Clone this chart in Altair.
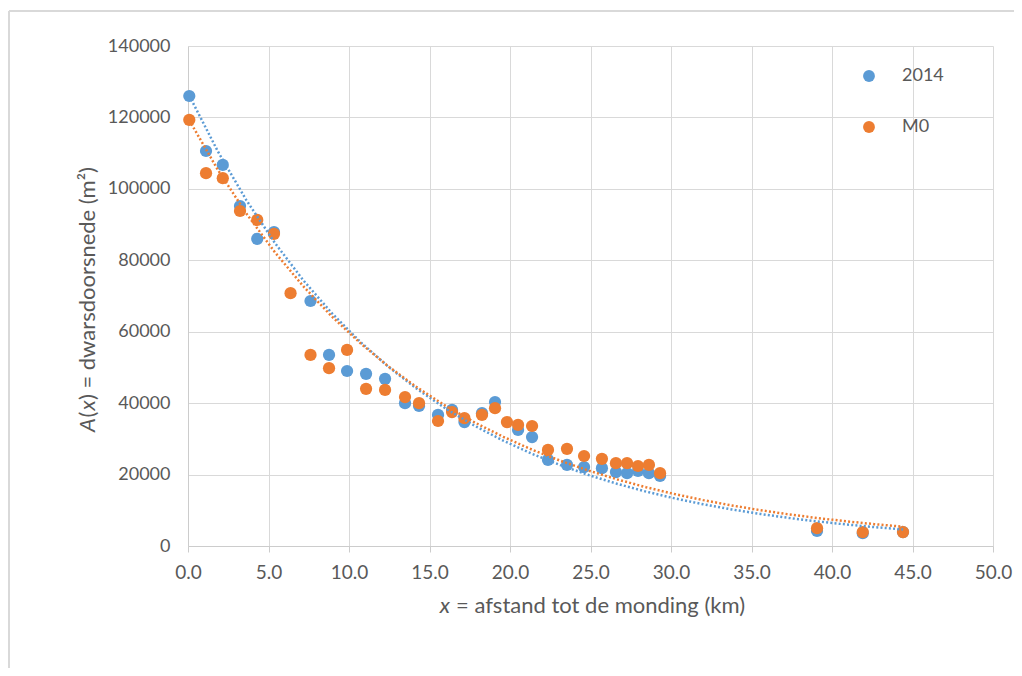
import altair as alt
import pandas as pd

# ---- data ----
series_names = ["2014", "M0"]
series_colors = ["#5B9BD5", "#ED7D31"]

x_2014 = [0.08, 1.12, 2.16, 3.23, 4.30, 5.34, 7.61, 8.76, 9.88, 11.06, 12.24, 13.48,
          14.35, 15.53, 16.4, 17.17, 18.26, 19.07, 20.50, 21.37, 22.36, 23.54, 24.60,
          25.71, 26.58, 27.27, 27.95, 28.63, 29.32, 39.07, 41.91, 44.41]
a_2014 = [126000, 110600, 106700, 95200, 86000, 87900, 68600, 53500, 49000, 48200, 46800, 40000,
          39200, 36700, 38100, 34700, 37200, 40300, 32500, 30500, 24100, 22700, 22100,
          21800, 20700, 20400, 21000, 20400, 19600, 4200, 3600, 3900]

x_m0 = [0.08, 1.12, 2.16, 3.23, 4.30, 5.34, 6.37, 7.61, 8.76, 9.88, 11.06, 12.24, 13.48,
        14.35, 15.53, 16.4, 17.17, 18.26, 19.07, 19.81, 20.50, 21.37, 22.36, 23.54, 24.60,
        25.71, 26.58, 27.27, 27.95, 28.63, 29.32, 39.07, 41.91, 44.41]
a_m0 = [119300, 104400, 103000, 93800, 91300, 87400, 70800, 53500, 49800, 54900, 44000, 43700, 41700,
        40000, 35000, 37500, 35800, 36700, 38600, 34700, 33900, 33600, 26900, 27200, 25200,
        24400, 23200, 23200, 22400, 22700, 20400, 5000, 3900, 3900]

x_ticks = [0, 5, 10, 15, 20, 25, 30, 35, 40, 45, 50]
y_ticks = [0, 20000, 40000, 60000, 80000, 100000, 120000, 140000]

x_title_parts = ["x", "= afstand tot de monding (km)"]
y_title_parts = ["A", "(", "x", ") = dwarsdoorsnede (m²)"]

df = pd.concat([
    pd.DataFrame({"x": x_2014, "A": a_2014, "serie": series_names[0]}),
    pd.DataFrame({"x": x_m0, "A": a_m0, "serie": series_names[1]}),
], ignore_index=True)

FONT = "Lato"
GRID = "#d9d9d9"
TXT = "#595959"
W, H = 805, 500
TSIZE = 22

xscale = alt.Scale(domain=[0, 50], nice=False, zero=False)
yscale = alt.Scale(domain=[0, 140000], nice=False)
cscale = alt.Scale(domain=series_names, range=series_colors)

x_enc = alt.X("x:Q", scale=xscale, axis=alt.Axis(
    values=x_ticks, format=".1f", title=None, grid=True, gridColor=GRID, gridWidth=1,
    domainColor="#cccccc", domainWidth=1, tickColor="#cccccc", tickSize=6,
    labelFont=FONT, labelFontSize=19, labelColor=TXT, labelPadding=11, labelFlush=False))
y_enc = alt.Y("A:Q", scale=yscale, axis=alt.Axis(
    values=y_ticks, format="d", title=None, grid=True, gridColor=GRID, gridWidth=1,
    domainColor="#cccccc", domainWidth=1, ticks=False, tickSize=0,
    labelFont=FONT, labelFontSize=18, labelColor=TXT, labelPadding=18))

points = alt.Chart(df).mark_circle(size=150, opacity=1).encode(
    x=x_enc, y=y_enc,
    color=alt.Color("serie:N", scale=cscale, legend=alt.Legend(
        title=None, orient="none", legendX=672, legendY=21, padding=0,
        symbolType="circle", symbolSize=140, symbolStrokeWidth=0, symbolOpacity=1,
        labelFont=FONT, labelFontSize=18, labelColor=TXT, labelOffset=24,
        rowPadding=33)),
    order=alt.Order("serie:N"),
)

trend = alt.Chart(df).transform_calculate(
    lnA="log(datum.A)"
).transform_regression(
    "x", "lnA", method="poly", order=1, groupby=["serie"]
).transform_calculate(
    A="exp(datum.lnA)"
).mark_line(strokeDash=[2, 2.2], strokeWidth=2.5).encode(
    x=alt.X("x:Q", scale=xscale),
    y=alt.Y("A:Q", scale=yscale),
    color=alt.Color("serie:N", scale=cscale, legend=None),
    detail="serie:N",
)

one = pd.DataFrame({"k": [0]})

def txt(s, x, y, align="left", italic=False, angle=0, dx=0, size=TSIZE):
    kw = dict(font=FONT, fontSize=size, color=TXT, align=align, baseline="middle", dx=dx)
    if italic:
        kw["fontStyle"] = "italic"
    if angle:
        kw["angle"] = angle
    return alt.Chart(one).mark_text(text=s, **kw).encode(x=alt.value(x), y=alt.value(y))

# x axis title (italic x)
xt_anchor = 262
xtitle = txt(x_title_parts[0], xt_anchor, 560, align="right", italic=True) + \
    txt(x_title_parts[1], xt_anchor, 560, align="left", dx=6)

# y axis title (italic A and x), rotated
yx, yy = -100, 386
wA, wP, wX = 14.5, 7.0, 10.4
ytitle = txt(y_title_parts[0], yx, yy, angle=270, italic=True, dx=0) + \
    txt(y_title_parts[1], yx, yy, angle=270, dx=wA) + \
    txt(y_title_parts[2], yx, yy, angle=270, italic=True, dx=wA + wP) + \
    txt(y_title_parts[3], yx, yy, angle=270, dx=wA + wP + wX)

# outer frame (left and top edges)
frame_left = alt.Chart(one).mark_rule(color="#d9d9d9", strokeWidth=2).encode(
    x=alt.value(-179), y=alt.value(-35), y2=alt.value(630))
frame_top = alt.Chart(one).mark_rule(color="#d9d9d9", strokeWidth=2).encode(
    x=alt.value(-179), x2=alt.value(830), y=alt.value(-35))

chart = alt.layer(frame_left, frame_top, points, trend, xtitle, ytitle).properties(
    width=W, height=H,
    autosize=alt.AutoSizeParams(type="none"),
    padding={"left": 180, "top": 38, "right": 21, "bottom": 122},
    background="white",
).configure_view(strokeWidth=0)

chart.save("out.html", embed_options={"renderer": "svg", "actions": False})
